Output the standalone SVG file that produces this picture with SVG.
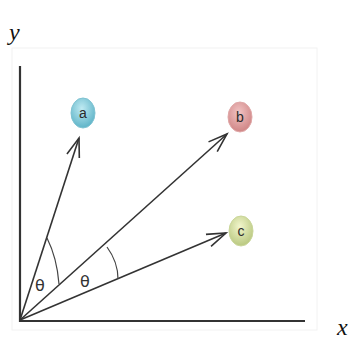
<svg xmlns="http://www.w3.org/2000/svg" width="360" height="339" viewBox="0 0 360 339">
<style>
.axis{stroke:#333;stroke-width:2.2;fill:none}
.vec{stroke:#333;stroke-width:1.6;fill:none}
.arc{stroke:#444;stroke-width:1.2;fill:none}
.lbl{font-family:"Liberation Serif",serif;font-style:italic;font-size:24px;fill:#111}
.th{font-family:"DejaVu Sans",sans-serif;font-size:16px;fill:#333}
.nl{font-family:"Liberation Sans",sans-serif;font-size:14px;fill:#2a2a2a;text-anchor:middle}
</style>
<defs>
<marker id="arr" markerWidth="24" markerHeight="16" refX="20" refY="8" orient="auto" markerUnits="userSpaceOnUse">
<path d="M1,1.5 L20,8 L1,14.5" stroke="#333" stroke-width="1.6" fill="none"/>
</marker>
<radialGradient id="ga" cx="0.45" cy="0.35" r="0.65"><stop offset="0" stop-color="#bfeaf2"/><stop offset="1" stop-color="#5fb4c8"/></radialGradient>
<radialGradient id="gb" cx="0.45" cy="0.35" r="0.65"><stop offset="0" stop-color="#f2c4c4"/><stop offset="1" stop-color="#cf8585"/></radialGradient>
<radialGradient id="gc" cx="0.45" cy="0.35" r="0.65"><stop offset="0" stop-color="#f2f6cc"/><stop offset="1" stop-color="#b9c880"/></radialGradient>
</defs>
<rect x="12" y="48" width="305" height="282" fill="none" stroke="#f2f2f2" stroke-width="1"/>
<text class="lbl" x="9" y="40">y</text>
<text class="lbl" x="337" y="335">x</text>
<g id="axes">
<path class="axis" d="M20,66 L20,321 L305,321"/>
</g>
<g id="connectors">
<line class="vec" x1="20" y1="320" x2="79" y2="138" marker-end="url(#arr)"/>
<line class="vec" x1="20" y1="320" x2="227" y2="134" marker-end="url(#arr)"/>
<line class="vec" x1="20" y1="320" x2="226" y2="233" marker-end="url(#arr)"/>
<path class="arc" d="M47,238 Q57,258 59,284"/>
<path class="arc" d="M107,247 Q118,262 118,279"/>
</g>
<text class="th" x="35" y="291">θ</text>
<text class="th" x="80" y="287">θ</text>
<g id="a">
<ellipse cx="83" cy="113" rx="12" ry="15" fill="url(#ga)" stroke="#7fc3d2" stroke-width="1"/>
<text class="nl" x="83" y="118">a</text>
</g>
<g id="b">
<ellipse cx="240" cy="117" rx="12" ry="15" fill="url(#gb)" stroke="#e0a8a8" stroke-width="1"/>
<text class="nl" x="240" y="122">b</text>
</g>
<g id="c">
<ellipse cx="241" cy="231" rx="12" ry="15" fill="url(#gc)" stroke="#cad69a" stroke-width="1"/>
<text class="nl" x="241" y="236">c</text>
</g>
</svg>
